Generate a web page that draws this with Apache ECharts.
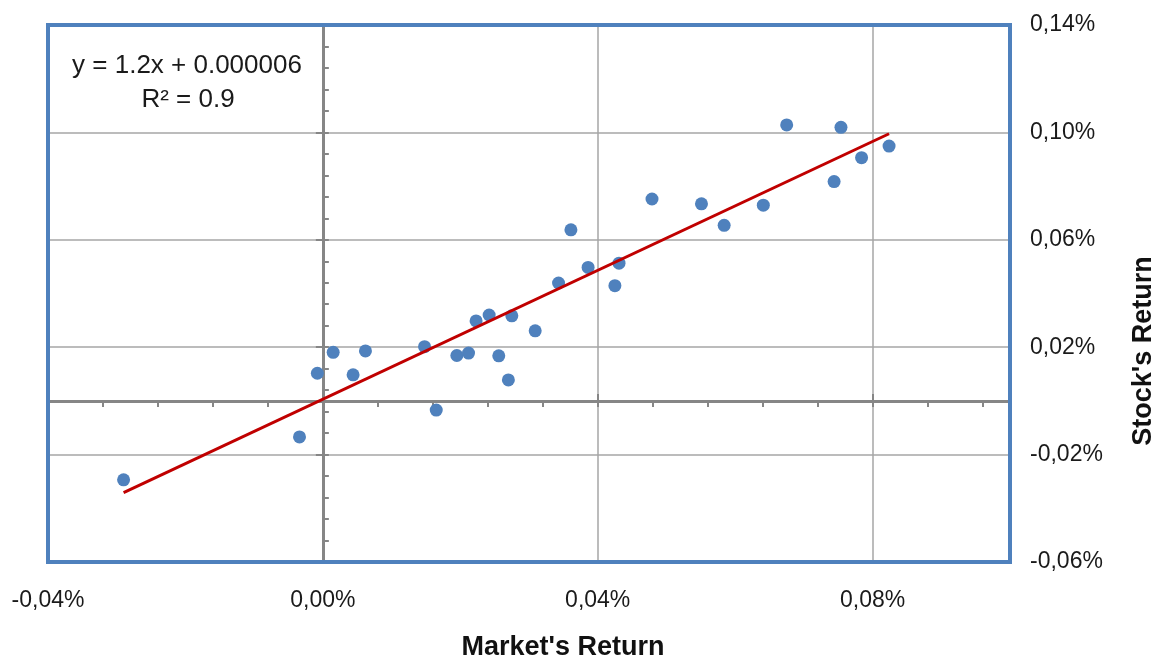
<!DOCTYPE html>
<html>
<head>
<meta charset="utf-8">
<script src="https://cdn.jsdelivr.net/npm/echarts@6/dist/echarts.min.js"></script>
<style>html,body{margin:0;padding:0;background:#fff;}#c{width:1159px;height:660px;}</style>
</head>
<body>
<div id="c"></div>
<script>
// Values in percent units (0.02 means 0.02%)
var marketReturn = [-0.0290, -0.0034, -0.0008, 0.0015, 0.0044, 0.0062, 0.0148, 0.0165, 0.0195, 0.0212,
  0.0223, 0.0242, 0.0256, 0.0270, 0.0275, 0.0309, 0.0343, 0.0361, 0.0386, 0.0425,
  0.0431, 0.0479, 0.0551, 0.0584, 0.0641, 0.0675, 0.0744, 0.0754, 0.0784, 0.0824];
var stockReturn = [-0.0294, -0.0134, 0.0103, 0.0181, 0.0097, 0.0186, 0.0202, -0.0034, 0.0169, 0.0178,
  0.0298, 0.0320, 0.0168, 0.0078, 0.0317, 0.0261, 0.0439, 0.0637, 0.0497, 0.0429,
  0.0513, 0.0752, 0.0734, 0.0654, 0.0729, 0.1028, 0.0817, 0.1019, 0.0906, 0.0949];
var trendX = [-0.0290, 0.0824];
var trendY = [-0.0342, 0.0995];
var xTickLabels = ['-0,04%', '0,00%', '0,04%', '0,08%'];
var yTickLabels = ['-0,06%', '-0,02%', '0,02%', '0,06%', '0,10%', '0,14%'];
var equationText = 'y = 1.2x + 0.000006';
var r2Text = 'R² = 0.9';
var xName = "Market's Return";
var yName = "Stock's Return";

var pts = marketReturn.map(function (x, i) { return [x, stockReturn[i]]; });
var trend = trendX.map(function (x, i) { return [x, trendY[i]]; });
function fmt(v) { return (v < 0 ? '-' : '') + Math.abs(v).toFixed(2).replace('.', ',') + '%'; }

var FONT = 'Liberation Sans';
var chart = echarts.init(document.getElementById('c'), null, { renderer: 'canvas' });
chart.setOption({
  animation: false,
  backgroundColor: '#ffffff',
  grid: { left: 48, top: 25, right: 149, bottom: 98, show: false, containLabel: false },
  xAxis: [
    { type: 'value', min: -0.04, max: 0.10, interval: 0.04, position: 'bottom',
      axisLine: { show: false, onZero: false }, axisTick: { show: false },
      axisLabel: { show: true, margin: 27, color: '#1a1a1a', fontFamily: FONT, fontSize: 23, showMaxLabel: false,
        formatter: function (v) { var s = fmt(v); return xTickLabels.indexOf(s) >= 0 ? s : ''; } },
      splitLine: { show: true, lineStyle: { color: '#A6A6A6', width: 1.5 } } },
    { type: 'value', min: -0.04, max: 0.10, interval: 0.008, position: 'bottom',
      axisLine: { show: true, onZero: true, onZeroAxisIndex: 0, lineStyle: { color: '#868686', width: 3 } },
      axisTick: { show: true, inside: false, length: 6, lineStyle: { color: '#868686', width: 2 } },
      axisLabel: { show: false }, splitLine: { show: false } },
    { type: 'value', min: -0.04, max: 0.10, interval: 0.04, position: 'bottom',
      axisLine: { show: false, onZero: true, onZeroAxisIndex: 0 },
      axisTick: { show: true, inside: true, length: 7, lineStyle: { color: '#868686', width: 2 } },
      axisLabel: { show: false }, splitLine: { show: false } }
  ],
  yAxis: [
    { type: 'value', min: -0.06, max: 0.14, interval: 0.04, position: 'right',
      axisLine: { show: false, onZero: false }, axisTick: { show: false },
      axisLabel: { show: true, margin: 20, color: '#1a1a1a', fontFamily: FONT, fontSize: 23,
        formatter: function (v) { var s = fmt(v); return yTickLabels.indexOf(s) >= 0 ? s : ''; } },
      splitLine: { show: true, lineStyle: { color: '#A6A6A6', width: 1.5 } } },
    { type: 'value', min: -0.06, max: 0.14, interval: 0.008, position: 'left',
      axisLine: { show: true, onZero: true, onZeroAxisIndex: 0, lineStyle: { color: '#868686', width: 3 } },
      axisTick: { show: true, inside: true, length: 6, lineStyle: { color: '#868686', width: 2 } },
      axisLabel: { show: false }, splitLine: { show: false } },
    { type: 'value', min: -0.06, max: 0.14, interval: 0.04, position: 'left',
      axisLine: { show: false, onZero: true, onZeroAxisIndex: 0 },
      axisTick: { show: true, inside: false, length: 7, lineStyle: { color: '#868686', width: 2 } },
      axisLabel: { show: false }, splitLine: { show: false } }
  ],
  series: [
    { type: 'scatter', xAxisIndex: 0, yAxisIndex: 0, data: pts, symbolSize: 13,
      itemStyle: { color: '#4F81BD', opacity: 1 }, z: 3 },
    { type: 'line', xAxisIndex: 0, yAxisIndex: 0, data: trend, showSymbol: false, symbol: 'none',
      lineStyle: { color: '#C00000', width: 3 }, z: 4 }
  ],
  graphic: [
    { type: 'rect', z: 100, silent: true, shape: { x: 48, y: 25, width: 962, height: 537 },
      style: { fill: 'none', stroke: '#4F81BD', lineWidth: 4 } },
    { type: 'text', x: 187, y: 66, z: 101, style: { text: equationText, fill: '#1a1a1a', font: '26px "Liberation Sans"', align: 'center', verticalAlign: 'middle' } },
    { type: 'text', x: 188, y: 100, z: 101, style: { text: r2Text, fill: '#1a1a1a', font: '26px "Liberation Sans"', align: 'center', verticalAlign: 'middle' } },
    { type: 'text', x: 563, y: 648, style: { text: xName, fill: '#111', font: 'bold 27px "Liberation Sans"', align: 'center', verticalAlign: 'middle' } },
    { type: 'text', x: 1144, y: 351, rotation: Math.PI / 2, style: { text: yName, fill: '#111', font: 'bold 27px "Liberation Sans"', align: 'center', verticalAlign: 'middle' } }
  ]
});
</script>
</body>
</html>
